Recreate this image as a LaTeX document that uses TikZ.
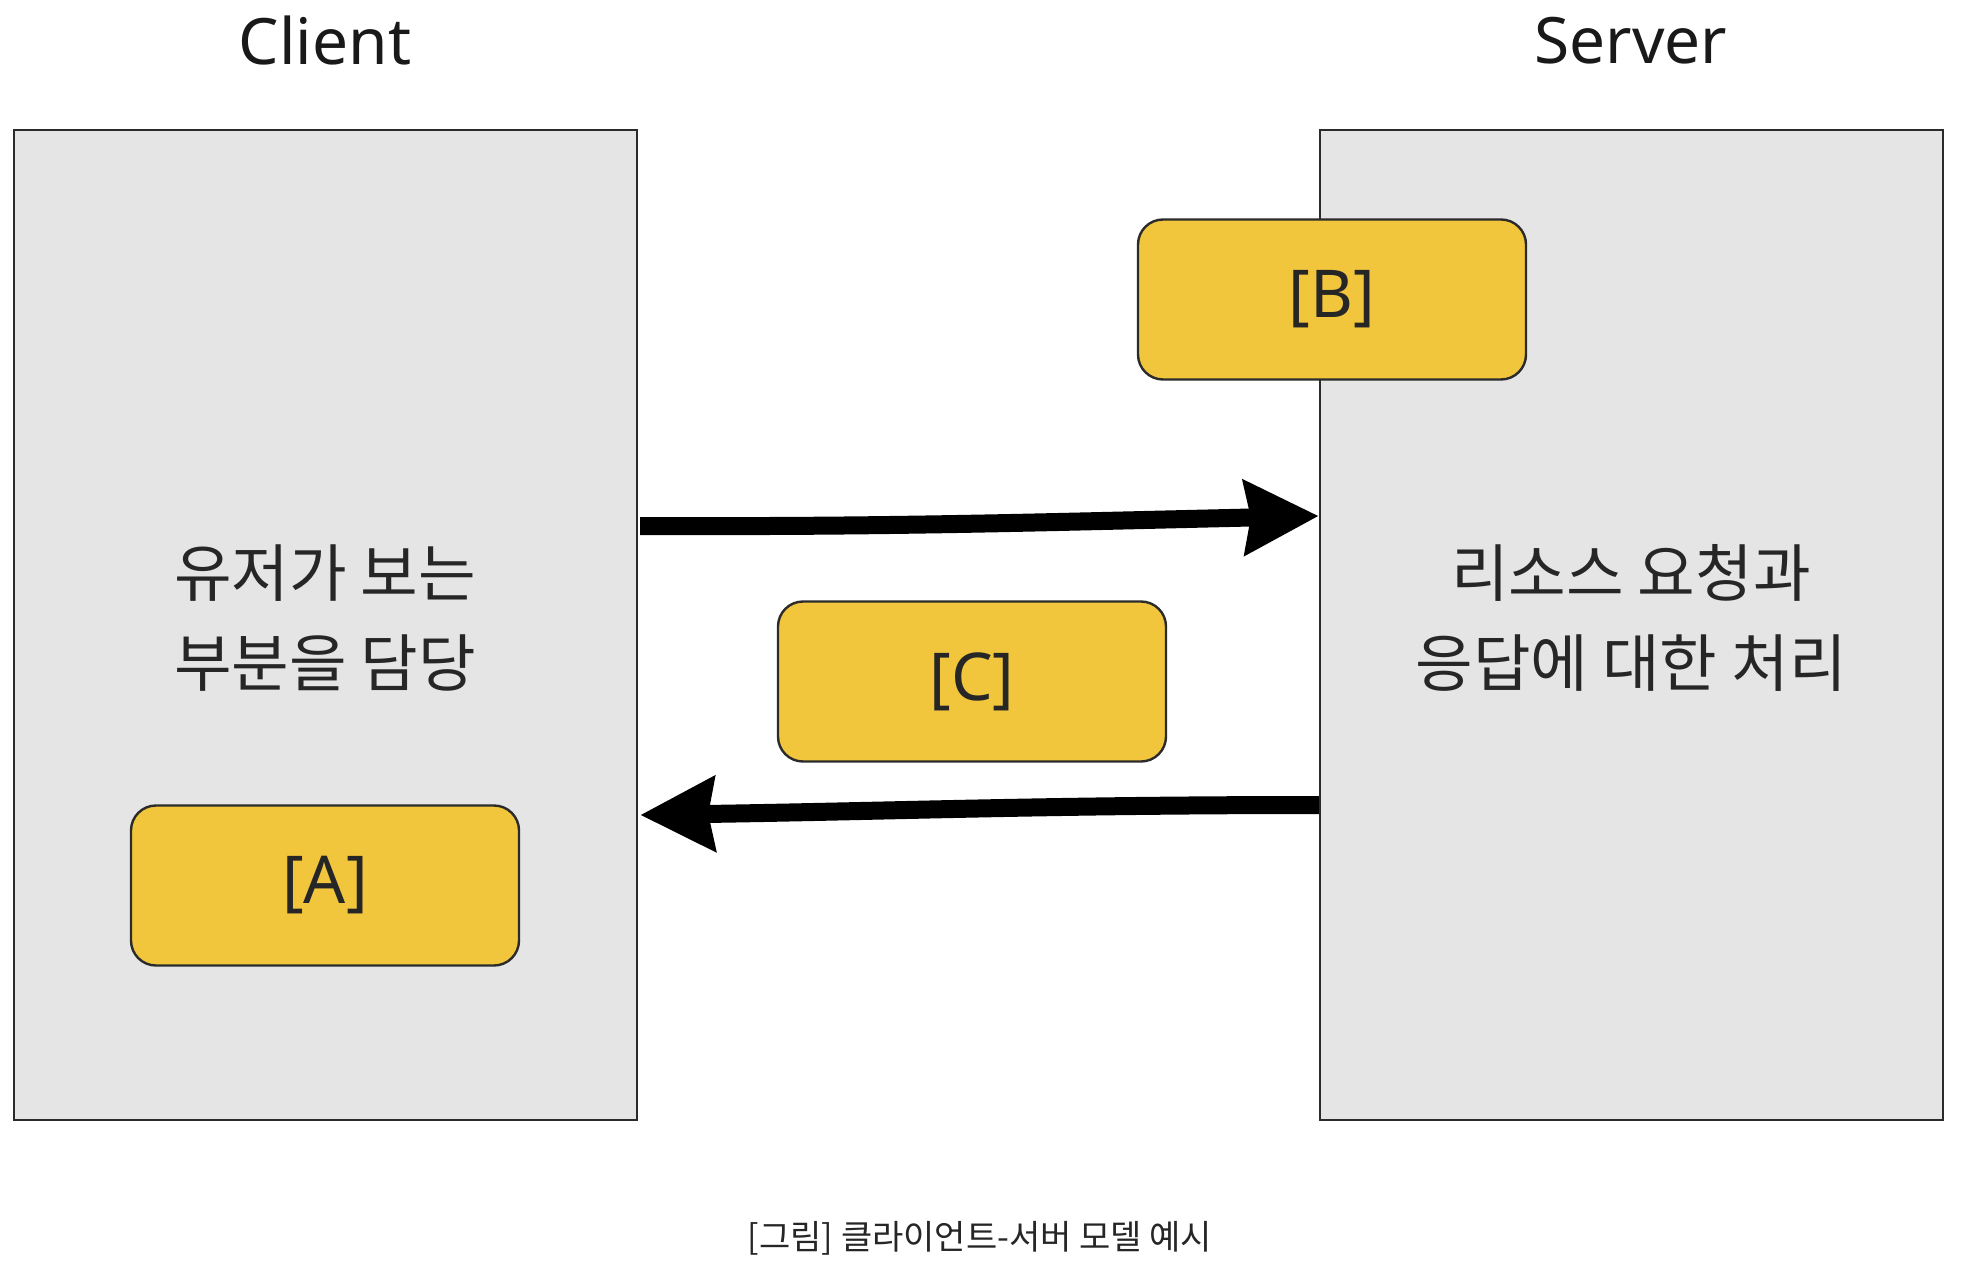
\documentclass[tikz,border=0pt]{standalone}
\usepackage{fontspec}
\setmainfont{Noto Sans}
\newfontfamily\kr{Noto Sans CJK KR}
\usetikzlibrary{arrows.meta}
\definecolor{boxgray}{HTML}{E5E5E5}
\definecolor{edge}{HTML}{2B2B2B}
\definecolor{tag}{HTML}{F1C63C}
\tikzset{
  panel/.style={draw=edge, line width=1.2pt, fill=boxgray},
  tagbox/.style={draw=edge, line width=1.2pt, fill=tag, rounded corners=12.5pt, minimum width=194pt, minimum height=80pt, inner sep=0pt, font=\fontsize{33}{40}\selectfont, text=black!85},
  title/.style={font=\fontsize{32}{38}\selectfont, text=black!90},
  desc/.style={font=\kr\fontsize{31.3}{45}\selectfont, align=center, text=black!85},
  flow/.style={line width=9pt, -{Stealth[length=37pt, width=36.5pt, inset=3pt]}},
}
\begin{document}
\begin{tikzpicture}[x=0.5pt, y=-0.5pt]
\useasboundingbox (0,0) rectangle (1962,1272);
\node[panel, minimum width=311.5pt, minimum height=495pt, inner sep=0pt] (client) at (325.5,625) {};
\node[panel, minimum width=311.5pt, minimum height=495pt, inner sep=0pt] (server) at (1631.5,625) {};
\node[title] (ctitle) at (325,41) {Client};
\node[title] (stitle) at (1631,41) {Server};
\node[desc] (cdesc) at (325,618) {유저가 보는\\부분을 담당};
\node[desc] (sdesc) at (1631,618) {리소스 요청과\\응답에 대한 처리};
\node[tagbox] (B) at (1332,299.5) {[B]};
\node[tagbox] (C) at (972,681.5) {[C]};
\node[tagbox] (A) at (325,885.5) {[A]};
\coordinate (r1) at ([xshift=1pt]client.east |- 0,526);
\coordinate (r2) at (server.west |- 0,516);
\coordinate (q1) at (server.west |- 0,805);
\coordinate (q2) at ([xshift=1pt]client.east |- 0,815);
\draw[flow] (r1) .. controls (900,527) and (1050,522) .. (r2);
\draw[flow] (q1) .. controls (1050,805) and (900,811) .. (q2);
\node[font=\kr\fontsize{17}{21}\selectfont, text=black!85] (cap) at (980,1238) {[그림] 클라이언트-서버 모델 예시};
\end{tikzpicture}
\end{document}
